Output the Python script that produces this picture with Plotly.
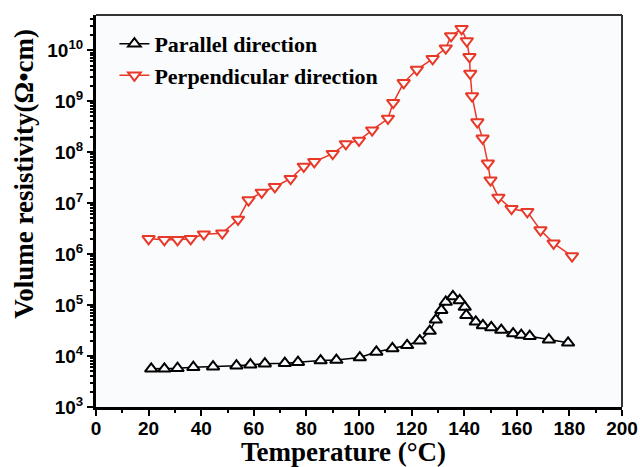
import plotly.graph_objects as go

# Parallel direction (black, up triangles)
par_T = [21, 26, 31, 37, 44.5, 53.4, 58.7, 64.2, 71.8, 76.8, 85.4, 91.4, 100.3, 106.6,
         112.7, 118.3, 123.1, 126.9, 129.2, 131.3, 133.0, 135.7, 138.3, 140.2, 140.8,
         144.4, 147.1, 150.3, 154.1, 158.6, 161.7, 164.9, 172.2, 179.5]
par_logR = [3.75, 3.75, 3.76, 3.78, 3.79, 3.81, 3.83, 3.85, 3.86, 3.88, 3.91, 3.92, 3.97, 4.08,
            4.15, 4.21, 4.30, 4.49, 4.71, 4.90, 5.06, 5.17, 5.09, 4.96, 4.80,
            4.67, 4.60, 4.56, 4.51, 4.44, 4.41, 4.39, 4.32, 4.26]

# Perpendicular direction (red, down triangles)
perp_T = [20, 26, 31, 36, 41, 48, 54, 58, 63, 68, 74, 79, 83, 90, 95, 100, 105, 111, 113,
          117, 122, 128, 133, 135, 139, 141, 142, 142.3, 143, 145, 147, 149, 150, 153,
          158, 164, 169, 174, 181]
perp_logR = [6.30, 6.28, 6.28, 6.30, 6.39, 6.41, 6.68, 7.06, 7.21, 7.32, 7.48, 7.72, 7.81,
             7.97, 8.16, 8.23, 8.43, 8.66, 8.97, 9.36, 9.62, 9.83, 10.04, 10.28, 10.42,
             10.18, 9.87, 9.54, 9.10, 8.59, 8.27, 7.78, 7.45, 7.11, 6.89, 6.83, 6.47,
             6.21, 5.96]

y_tickvals = [1e3, 1e4, 1e5, 1e6, 1e7, 1e8, 1e9, 1e10]
y_ticktext = ["10<sup>3</sup>", "10<sup>4</sup>", "10<sup>5</sup>", "10<sup>6</sup>",
              "10<sup>7</sup>", "10<sup>8</sup>", "10<sup>9</sup>", "10<sup>10</sup>"]
x_tickvals = [0, 20, 40, 60, 80, 100, 120, 140, 160, 180, 200]

BG = "#fafbfd"
RED = "rgb(232,56,40)"

fig = go.Figure()
fig.add_trace(go.Scatter(
    x=par_T, y=[10 ** v for v in par_logR], name="Parallel direction",
    mode="lines+markers",
    line=dict(color="black", width=1.5),
    marker=dict(symbol="triangle-up", size=11, color=BG, line=dict(color="black", width=2)),
))
fig.add_trace(go.Scatter(
    x=perp_T, y=[10 ** v for v in perp_logR], name="Perpendicular direction",
    mode="lines+markers",
    line=dict(color=RED, width=1.5),
    marker=dict(symbol="triangle-down", size=11, color=BG, line=dict(color=RED, width=2)),
))

tickfont = dict(family="Liberation Sans", size=19, color="black", weight="bold")

fig.update_xaxes(
    range=[0, 200], tickvals=x_tickvals, showgrid=False, zeroline=False,
    showline=True, linecolor="black", linewidth=3,
    ticks="outside", ticklen=6, tickwidth=2, tickcolor="black",
    minor=dict(ticks="outside", ticklen=3, tickwidth=2, tickcolor="black", dtick=10),
    tickfont=tickfont, ticklabeloverflow="allow", automargin=False,
    ticklabelstandoff=-4,
)
fig.update_yaxes(
    type="log", range=[3, 10.69], tickvals=y_tickvals, ticktext=y_ticktext,
    showgrid=False, zeroline=False,
    showline=True, linecolor="black", linewidth=3,
    ticks="outside", ticklen=6, tickwidth=2, tickcolor="black",
    minor=dict(ticks="outside", ticklen=3, tickwidth=1.5, tickcolor="black", dtick="D1"),
    tickfont=tickfont, automargin=False,
)

# top and right frame
fig.add_shape(type="line", xref="paper", yref="paper", x0=0, x1=1, y0=1, y1=1,
              line=dict(color="#333333", width=2))
fig.add_shape(type="line", xref="paper", yref="paper", x0=1, x1=1, y0=0, y1=1,
              line=dict(color="#333333", width=2))

fig.add_annotation(text="Temperature (°C)", xref="paper", yref="paper",
                   x=0.47, y=0, xanchor="center", yanchor="top", yshift=-28,
                   showarrow=False,
                   font=dict(family="Liberation Serif", size=27, color="black", weight="bold"))
fig.add_annotation(text="Volume resistivity(Ω•cm)", xref="paper", yref="paper",
                   x=-0.137, y=0.595, xanchor="center", yanchor="middle", textangle=-90,
                   showarrow=False,
                   font=dict(family="Liberation Serif", size=27, color="black", weight="bold"))

fig.update_layout(
    width=640, height=467,
    margin=dict(l=96, r=18, t=15, b=60),
    paper_bgcolor="white", plot_bgcolor=BG,
    showlegend=True,
    legend=dict(x=0.035, y=0.98, xanchor="left", yanchor="top",
                bgcolor="rgba(0,0,0,0)", tracegroupgap=0,
                font=dict(family="Liberation Serif", size=22, color="black", weight="bold")),
)

fig.write_html("out.html", config={"displayModeBar": False},
               post_script="document.body.style.margin='0px';")
